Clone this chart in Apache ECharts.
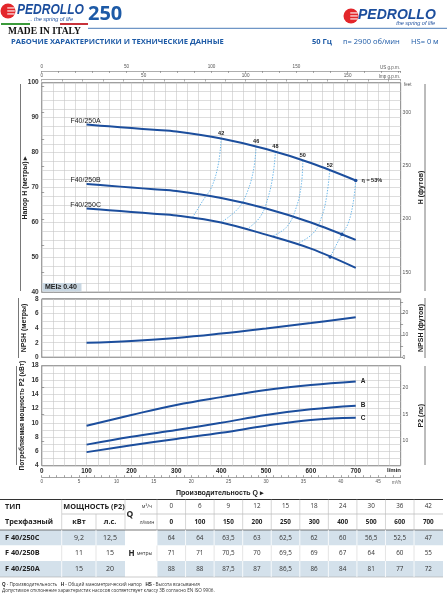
<!DOCTYPE html>
<html><head><meta charset="utf-8">
<script src="https://cdn.jsdelivr.net/npm/echarts@6/dist/echarts.min.js"></script>
<style>html,body{margin:0;padding:0;background:#fff}#c{width:447px;height:599px}</style>
</head><body><div id="c"></div><script>
// ---- table data ----
const tableQm3h = [0, 6, 9, 12, 15, 18, 24, 30, 36, 42];
const tableQlmin = [0, 100, 150, 200, 250, 300, 400, 500, 600, 700];
const models = ['F 40/250C', 'F 40/250B', 'F 40/250A'];
const powerKw = ['9,2', '11', '15'];
const powerHp = ['12,5', '15', '20'];
const headC = [64, 64, 63.5, 63, 62.5, 62, 60, 56.5, 52.5, 47];
const headB = [71, 71, 70.5, 70, 69.5, 69, 67, 64, 60, 55];
const headA = [88, 88, 87.5, 87, 86.5, 86, 84, 81, 77, 72];
// ---- NPSH & power ----
const curveQ = [100, 200, 300, 400, 500, 600, 700];
const npsh = [2.0, 2.25, 2.65, 3.25, 3.95, 4.7, 5.5];
const p2A = [9.6, 11.1, 12.5, 13.6, 14.6, 15.3, 15.8];
const p2B = [6.95, 8.05, 9.0, 10.0, 11.1, 11.9, 12.4];
const p2C = [5.9, 6.85, 7.75, 8.6, 9.6, 10.4, 10.7];
// ---- iso-efficiency lines [Q l/min, H m] ----
const eta42 = [[400, 84], [394, 76.9], [379, 70.2], [360, 66.4], [336, 61.4]];
const eta46 = [[478, 81.7], [472, 74.9], [457, 68.3], [438, 64], [400, 60]];
const eta48 = [[521, 80.2], [516, 74], [505, 67.3], [487, 61.6], [458, 58.1]];
const eta50 = [[582, 77.7], [579, 71.1], [568, 64.5], [546, 58.7], [513, 56.0]];
const eta52 = [[642, 74.9], [635, 67.3], [624, 61.6], [605, 56.9], [568, 53.8]];
const eta53 = [[700, 72], [694, 65.4], [683, 59.7], [669, 56.6], [643, 50.1]];
const etaNames = ['42', '46', '48', '50', '52', 'η = 53%'];
const etaLines = [eta42, eta46, eta48, eta50, eta52, eta53];
// ---- axis ticks ----
const ftTicksH = [150, 200, 250, 300];
const ftTicksN = [0, 10, 20];
const hpTicks = [10, 15, 20];

const FONT = '"Liberation Sans", Arial, sans-serif';
const BLUE = '#1c4e9d';
const TBLUE = '#1d5aa6';
const GL = '#c6c6c6';
const L = 41.7, W = 358.9;

const chart = echarts.init(document.getElementById('c'), null, {renderer: 'canvas'});

function valAxisX(grid, extra) {
  return Object.assign({
    gridIndex: grid, type: 'value', min: 0, max: 800, interval: 25,
    axisLine: {show: false}, axisTick: {show: false}, axisLabel: {show: false},
    splitLine: {show: true, lineStyle: {color: GL, width: 0.6}}
  }, extra || {});
}
function leftY(grid, min, max, interval, every) {
  return {
    gridIndex: grid, type: 'value', min, max, interval, position: 'left',
    axisLine: {show: false}, axisTick: {show: false},
    axisLabel: {fontSize: 6.5, fontWeight: 'bold', color: '#333', margin: 3, fontFamily: FONT,
      formatter: v => (Math.abs(v / every - Math.round(v / every)) < 1e-6 ? String(v) : '')},
    splitLine: {show: true, lineStyle: {color: GL, width: 0.6}}
  };
}
function rightY(grid, min, max, labels, ticks) {
  return {
    gridIndex: grid, type: 'value', min, max, position: 'right',
    axisLine: {show: false},
    axisTick: {show: true, length: 2.5, customValues: ticks, lineStyle: {color: '#666', width: 0.6}},
    axisLabel: {customValues: labels, fontSize: 5, color: '#555', margin: 2, fontFamily: FONT},
    splitLine: {show: false}
  };
}

const series = [];
function firstLabel(data, text, pos, extra) {
  const d = data.slice();
  d[0] = {value: d[0], label: Object.assign({show: true, position: pos, formatter: text, fontFamily: FONT,
    color: '#222', fontSize: 7, distance: 1}, extra || {})};
  return d;
}
[['F40/250A', headA], ['F40/250B', headB], ['F40/250C', headC]].forEach(([n, h]) => {
  const data = tableQlmin.slice(1).map((q, i) => [q, h[i + 1]]);
  series.push({type: 'line', name: n, xAxisIndex: 0, yAxisIndex: 0, smooth: 0.35, symbol: 'circle', symbolSize: 0,
    showSymbol: true, lineStyle: {color: BLUE, width: 2}, itemStyle: {color: BLUE},
    data: firstLabel(data, n, 'top', {offset: [-1, 1]}), z: 4});
});
etaLines.forEach((pts, k) => {
  const is53 = k === etaLines.length - 1;
  const data = pts.map((p, i) => {
    const o = {value: p, symbolSize: (is53 && (i === 0 || i === 3 || i === 4)) ? 3.5 : 0};
    if (i === 0) o.label = {show: true, position: is53 ? 'right' : 'top', formatter: etaNames[k],
      fontSize: 5.5, fontWeight: 'bold', color: '#222', distance: is53 ? 4 : 2, fontFamily: FONT};
    return o;
  });
  series.push({type: 'line', xAxisIndex: 0, yAxisIndex: 0, smooth: 0.4, symbol: 'circle', showSymbol: true,
    itemStyle: {color: BLUE}, lineStyle: {color: '#5eb0e6', width: 0.9, type: [1.4, 1.4]}, data, z: 3});
});
series.push({type: 'line', xAxisIndex: 1, yAxisIndex: 2, smooth: 0.4, showSymbol: false,
  lineStyle: {color: BLUE, width: 2}, data: curveQ.map((q, i) => [q, npsh[i]])});
[['A', p2A], ['B', p2B], ['C', p2C]].forEach(([n, p]) => {
  series.push({type: 'line', xAxisIndex: 2, yAxisIndex: 4, smooth: 0.4, showSymbol: false,
    lineStyle: {color: BLUE, width: 2}, data: curveQ.map((q, i) => [q, p[i]]),
    endLabel: {show: true, formatter: n, fontSize: 6.5, fontWeight: 'bold', color: '#222', distance: 5, fontFamily: FONT}});
});

// ---------- graphic ----------
const g = [];
function txt(x, y, text, st, extra) {
  const style = Object.assign({text, fill: '#222', font: 'bold 7px ' + FONT, align: 'left', verticalAlign: 'middle'}, st || {});
  style.textAlign = style.align; style.textVerticalAlign = style.verticalAlign;
  g.push(Object.assign({type: 'text', x, y, style, z: 10}, extra || {}));
}
function rect(x, y, w, h, fill, z) { g.push({type: 'rect', shape: {x, y, width: w, height: h}, style: {fill}, z: z || 5}); }
function line(x1, y1, x2, y2, stroke, w) { g.push({type: 'line', shape: {x1, y1, x2, y2}, style: {stroke, lineWidth: w || 1}, z: 6}); }

function logo(cx, cy, r, tx, ty, size, sx) {
  g.push({type: 'circle', shape: {cx, cy, r}, style: {fill: '#e3262b'}, z: 10});
  [-3, 0, 3].forEach(d => g.push({type: 'rect', shape: {x: cx - r * 0.1, y: cy + d - 0.6, width: r * 1.0, height: 1.1}, style: {fill: '#fff'}, z: 11}));
  txt(0, 0, 'PEDROLLO', {font: 'italic bold ' + size + 'px ' + FONT, fill: BLUE}, {x: tx, y: ty, scaleX: sx || 1});
}
// header
txt(88, 14, '250', {font: 'bold 20px "Open Sans", ' + FONT, fill: TBLUE});
logo(8, 11, 7.5, 17, 10.5, 14, 0.86);
txt(28, 19.5, '... the spring of life', {font: 'italic 5.5px ' + FONT, fill: BLUE});
rect(1, 23, 29, 2, '#3a9a3a', 10);
rect(60, 23, 28, 2, '#c8323a', 10);
txt(8, 31.5, 'MADE IN ITALY', {font: 'bold 9.5px "Liberation Serif", serif', fill: '#111'});
line(88, 28.3, 447, 28.3, TBLUE, 0.8);
logo(351, 16, 7.5, 358, 15, 14);
txt(435, 23, 'the spring of life', {font: 'italic 5.5px ' + FONT, fill: BLUE, align: 'right'});
txt(11, 41.5, 'РАБОЧИЕ ХАРАКТЕРИСТИКИ И ТЕХНИЧЕСКИЕ ДАННЫЕ', {font: 'bold 7.6px "Open Sans", ' + FONT, fill: TBLUE});
txt(312, 41.5, '50 Гц', {font: 'bold 7.5px "Open Sans", ' + FONT, fill: TBLUE});
txt(343, 41.5, 'n= 2900 об/мин', {font: '7.5px "Open Sans", ' + FONT, fill: TBLUE});
txt(411, 41.5, 'HS= 0 м', {font: '7.5px "Open Sans", ' + FONT, fill: TBLUE});

// axis unit labels
txt(400, 67.5, 'US g.p.m.', {font: '4.5px ' + FONT, fill: '#555', align: 'right'});
txt(400, 76.5, 'Imp g.p.m.', {font: '4.5px ' + FONT, fill: '#555', align: 'right'});
txt(404, 84.5, 'feet', {font: '4.5px ' + FONT, fill: '#555'});
txt(401, 470, 'l/min', {font: 'bold 6px ' + FONT, fill: '#222', align: 'right'});
txt(401, 482.5, 'm³/h', {font: '4.5px ' + FONT, fill: '#555', align: 'right'});
txt(220, 493, 'Производительность Q ▸', {font: 'bold 7px ' + FONT, align: 'center'});

// axis names (rotated)
function vname(x, y, text, size) {
  txt(0, 0, text, {font: 'bold ' + (size || 7) + 'px ' + FONT, align: 'center'}, {x, y, rotation: Math.PI / 2});
}
vname(25, 187.5, 'Напор H (метры) ▸');
vname(420.7, 187.5, 'H (футов)');
vname(24, 328, 'NPSH (метры)');
vname(420.7, 328, 'NPSH (футов)');
vname(22, 415.7, 'Потребляемая мощность P2 (кВт)', 6.6);
vname(420.7, 415.7, 'P2 (лс)');
[[20.5, 84, 291], [18.5, 298, 358], [16.5, 366, 465]].forEach(a => line(a[0], a[1], a[0], a[2], '#555', 0.8));
[[425, 84, 291], [425, 298, 358], [425, 366, 465]].forEach(a => line(a[0], a[1], a[0], a[2], '#555', 0.8));

// MEI box
rect(42.5, 283, 39, 8.6, '#c9d7e2', 8);
txt(45, 287.4, 'MEI≥ 0.40', {font: 'bold 7px ' + FONT});

// ---------- table ----------
const colX0 = 157, colW = 28.56, tR = 443;
const rowY = [[530, 545.5], [545.5, 561], [561, 577]];
const rowBg = ['#d4e1eb', '#ffffff', '#d4e1eb'];
rowY.forEach((r, i) => {
  rect(0, r[0], tR, r[1] - r[0], rowBg[i], 5);
});
rect(125, 530, 32, 47, '#ffffff', 5);
line(0, 499.5, tR, 499.5, '#333', 1);
line(62, 514, 125, 514, '#aaa', 0.6);
line(140, 514, tR, 514, '#aaa', 0.6);
line(0, 530, tR, 530, '#555', 0.8);
line(0, 577, tR, 577, '#aaa', 0.6);
[61.7, 125, 157].forEach(x => line(x, 499.5, x, 530, '#bbb', 0.6));
line(96, 514, 96, 530, '#bbb', 0.6);
for (let k = 1; k < 10; k++) line(colX0 + colW * k, 499.5, colX0 + colW * k, 530, '#bbb', 0.6);
rowY.forEach((r, i) => {
  const c = i === 1 ? '#dedede' : '#ffffff';
  [61.7, 96, 157].forEach(x => line(x, r[0], x, r[1], c, 0.8));
  for (let k = 1; k < 10; k++) line(colX0 + colW * k, r[0], colX0 + colW * k, r[1], c, 0.8);
});
txt(5, 506.5, 'ТИП', {font: 'bold 7.3px "Open Sans", ' + FONT});
txt(5, 522.2, 'Трехфазный', {font: 'bold 7.3px "Open Sans", ' + FONT});
txt(94, 506.5, 'МОЩНОСТЬ (P2)', {font: 'bold 7.3px "Open Sans", ' + FONT, align: 'center'});
txt(79, 522.2, 'кВт', {font: 'bold 7.3px "Open Sans", ' + FONT, align: 'center'});
txt(110, 522.2, 'л.с.', {font: 'bold 7.3px "Open Sans", ' + FONT, align: 'center'});
txt(130, 514.5, 'Q', {font: 'bold 8.5px "Open Sans", ' + FONT, align: 'center'});
txt(147, 506.5, 'м³/ч', {font: '5px "Open Sans", ' + FONT, align: 'center', fill: '#333'});
txt(147, 522.2, 'л/мин', {font: '5px "Open Sans", ' + FONT, align: 'center', fill: '#333'});
tableQm3h.forEach((v, k) => txt(colX0 + colW * (k + 0.5), 506.5, String(v), {font: '6.3px "Open Sans", ' + FONT, align: 'center', fill: '#333'}));
tableQlmin.forEach((v, k) => txt(colX0 + colW * (k + 0.5), 522.2, String(v), {font: 'bold 6.3px "Open Sans", ' + FONT, align: 'center'}));
const fmt = v => String(v).replace('.', ',');
[headC, headB, headA].forEach((arr, i) => {
  const yc = (rowY[i][0] + rowY[i][1]) / 2;
  txt(5, yc, models[i], {font: 'bold 7.3px "Open Sans", ' + FONT});
  txt(79, yc, powerKw[i], {font: '7px "Open Sans", ' + FONT, align: 'center', fill: '#333'});
  txt(110, yc, powerHp[i], {font: '7px "Open Sans", ' + FONT, align: 'center', fill: '#333'});
  arr.forEach((v, k) => txt(colX0 + colW * (k + 0.5), yc, fmt(v), {font: '6.3px "Open Sans", ' + FONT, align: 'center', fill: '#333'}));
});
txt(131.5, 553.3, 'H', {font: 'bold 8px "Open Sans", ' + FONT, align: 'center'});
txt(144.5, 553.5, 'метры', {font: '5px "Open Sans", ' + FONT, align: 'center', fill: '#333'});
txt(2, 585, '{b|Q} - Производительность   {b|H} - Общий манометрический напор   {b|HS} - Высота всасывания',
  {font: '4.6px "Open Sans", ' + FONT, fill: '#333', rich: {b: {fontWeight: 'bold', fontSize: 4.6, fill: '#222'}}});
txt(2, 591, 'Допустимое отклонение характеристик насосов соответствует классу 3B согласно EN ISO 9906.',
  {font: '4.6px "Open Sans", ' + FONT, fill: '#333'});

const option = {
  animation: false,
  backgroundColor: '#fff',
  grid: [
    {left: L, top: 82.7, width: W, height: 209.6, show: true, borderColor: '#444', borderWidth: 1, backgroundColor: 'transparent'},
    {left: L, top: 299, width: W, height: 58.3, show: true, borderColor: '#444', borderWidth: 1, backgroundColor: 'transparent'},
    {left: L, top: 365.7, width: W, height: 100, show: true, borderColor: '#444', borderWidth: 1, backgroundColor: 'transparent'}
  ],
  xAxis: [
    valAxisX(0),
    valAxisX(1),
    valAxisX(2, {position: 'bottom', axisLabel: {show: true, fontSize: 6.3, fontWeight: 'bold', color: '#222', margin: 3, fontFamily: FONT,
      formatter: v => (v % 100 === 0 && v < 800 ? String(v) : '')}}),
    {gridIndex: 2, type: 'value', position: 'bottom', offset: 11.5, min: 0, max: 48, interval: 1,
      axisLine: {show: true, lineStyle: {color: '#666', width: 0.6}},
      axisTick: {show: true, inside: true, length: 2, lineStyle: {color: '#666', width: 0.6}},
      axisLabel: {fontSize: 4.6, color: '#555', margin: 2.5, fontFamily: FONT, formatter: v => (v % 5 === 0 && v < 48 ? String(v) : '')},
      splitLine: {show: false}},
    {gridIndex: 0, type: 'value', position: 'top', offset: 11.7, min: 0, max: 800 / 3.78541, interval: 10,
      axisLine: {show: true, lineStyle: {color: '#777', width: 0.6}},
      axisTick: {show: true, inside: true, length: 2, lineStyle: {color: '#777', width: 0.6}},
      axisLabel: {fontSize: 4.6, color: '#555', margin: 2, fontFamily: FONT, formatter: v => (v % 50 === 0 && v < 200 ? String(v) : '')},
      splitLine: {show: false}},
    {gridIndex: 0, type: 'value', position: 'top', offset: 3.2, min: 0, max: 800 / 4.54609, interval: 10,
      axisLine: {show: true, lineStyle: {color: '#777', width: 0.6}},
      axisTick: {show: true, inside: true, length: 2, lineStyle: {color: '#777', width: 0.6}},
      axisLabel: {fontSize: 4.6, color: '#555', margin: 1.5, fontFamily: FONT, formatter: v => (v % 50 === 0 ? String(v) : '')},
      splitLine: {show: false}}
  ],
  yAxis: [
    leftY(0, 40, 100, 2.5, 10),
    rightY(0, 40 * 3.28084, 100 * 3.28084, ftTicksH, [150, 175, 200, 225, 250, 275, 300, 325]),
    leftY(1, 0, 8, 1, 2),
    rightY(1, 0, 8 * 3.28084, ftTicksN, [0, 5, 10, 15, 20, 25]),
    leftY(2, 4, 18, 1, 2),
    rightY(2, 4 / 0.7457, 18 / 0.7457, hpTicks, hpTicks)
  ],
  series,
  graphic: {elements: g}
};
chart.setOption(option);
</script></body></html>
